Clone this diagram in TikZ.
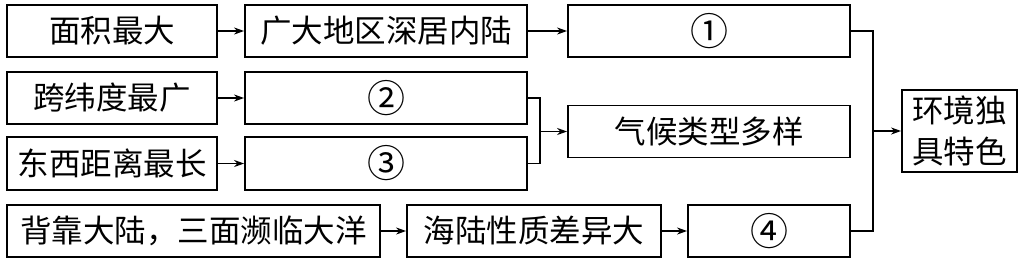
\documentclass[tikz,border=0pt]{standalone}
\usepackage{fontspec}
\newfontfamily\cjk{Noto Sans CJK SC}
\usetikzlibrary{arrows.meta}
\tikzset{
  box/.style={draw, line width=1.8pt, inner sep=0pt, minimum height=52pt,
    font=\cjk\fontsize{31.5}{41}\selectfont, align=center},
  num/.style={font=\cjk\fontsize{38}{41}\selectfont},
  conn/.style={line width=1.8pt},
  arr/.style={line width=1.8pt, -{Stealth[length=10pt,width=7pt]}}
}
\begin{document}
\begin{tikzpicture}[x=1pt,y=-1pt]
\useasboundingbox (0,0) rectangle (1024,263);
\node[box, minimum width=210pt] (A) at (112,31) {面积最大};
\node[box, minimum width=282pt] (B) at (386,31) {广大地区深居内陆};
\node[box, num, minimum width=282pt] (C) at (709,31) {①};
\node[box, minimum width=210pt] (D) at (112,98) {跨纬度最广};
\node[box, num, minimum width=282pt] (E) at (386,98) {②};
\node[box, minimum width=210pt, minimum height=53pt] (F) at (112,163.5) {东西距离最长};
\node[box, num, minimum width=282pt, minimum height=53pt] (G) at (386,163.5) {③};
\node[box, minimum width=282pt] (H) at (709,131.5) {气候类型多样};
\node[box, minimum width=373pt] (I) at (193.5,231) {背靠大陆，三面濒临大洋};
\node[box, minimum width=254pt] (J) at (534,231) {海陆性质差异大};
\node[box, num, minimum width=162pt] (K) at (769,231) {④};
\node[box, minimum width=115pt, minimum height=82pt] (L) at (959.5,131) {环境独\\具特色};
\coordinate (m1) at (540,131.5);
\coordinate (m2) at (873,131);
\draw[arr] (A) -- (B);
\draw[arr] (B) -- (C);
\draw[arr] (D) -- (E);
\draw[arr] (F) -- (G);
\draw[arr] (I) -- (J);
\draw[arr] (J) -- (K);
\draw[conn] (E.east) -| (m1) |- (G.east);
\draw[arr] (m1) -- (H.west);
\draw[conn] (C.east) -| (m2) |- (K.east);
\draw[arr] (m2) -- (L.west);
\end{tikzpicture}
\end{document}
